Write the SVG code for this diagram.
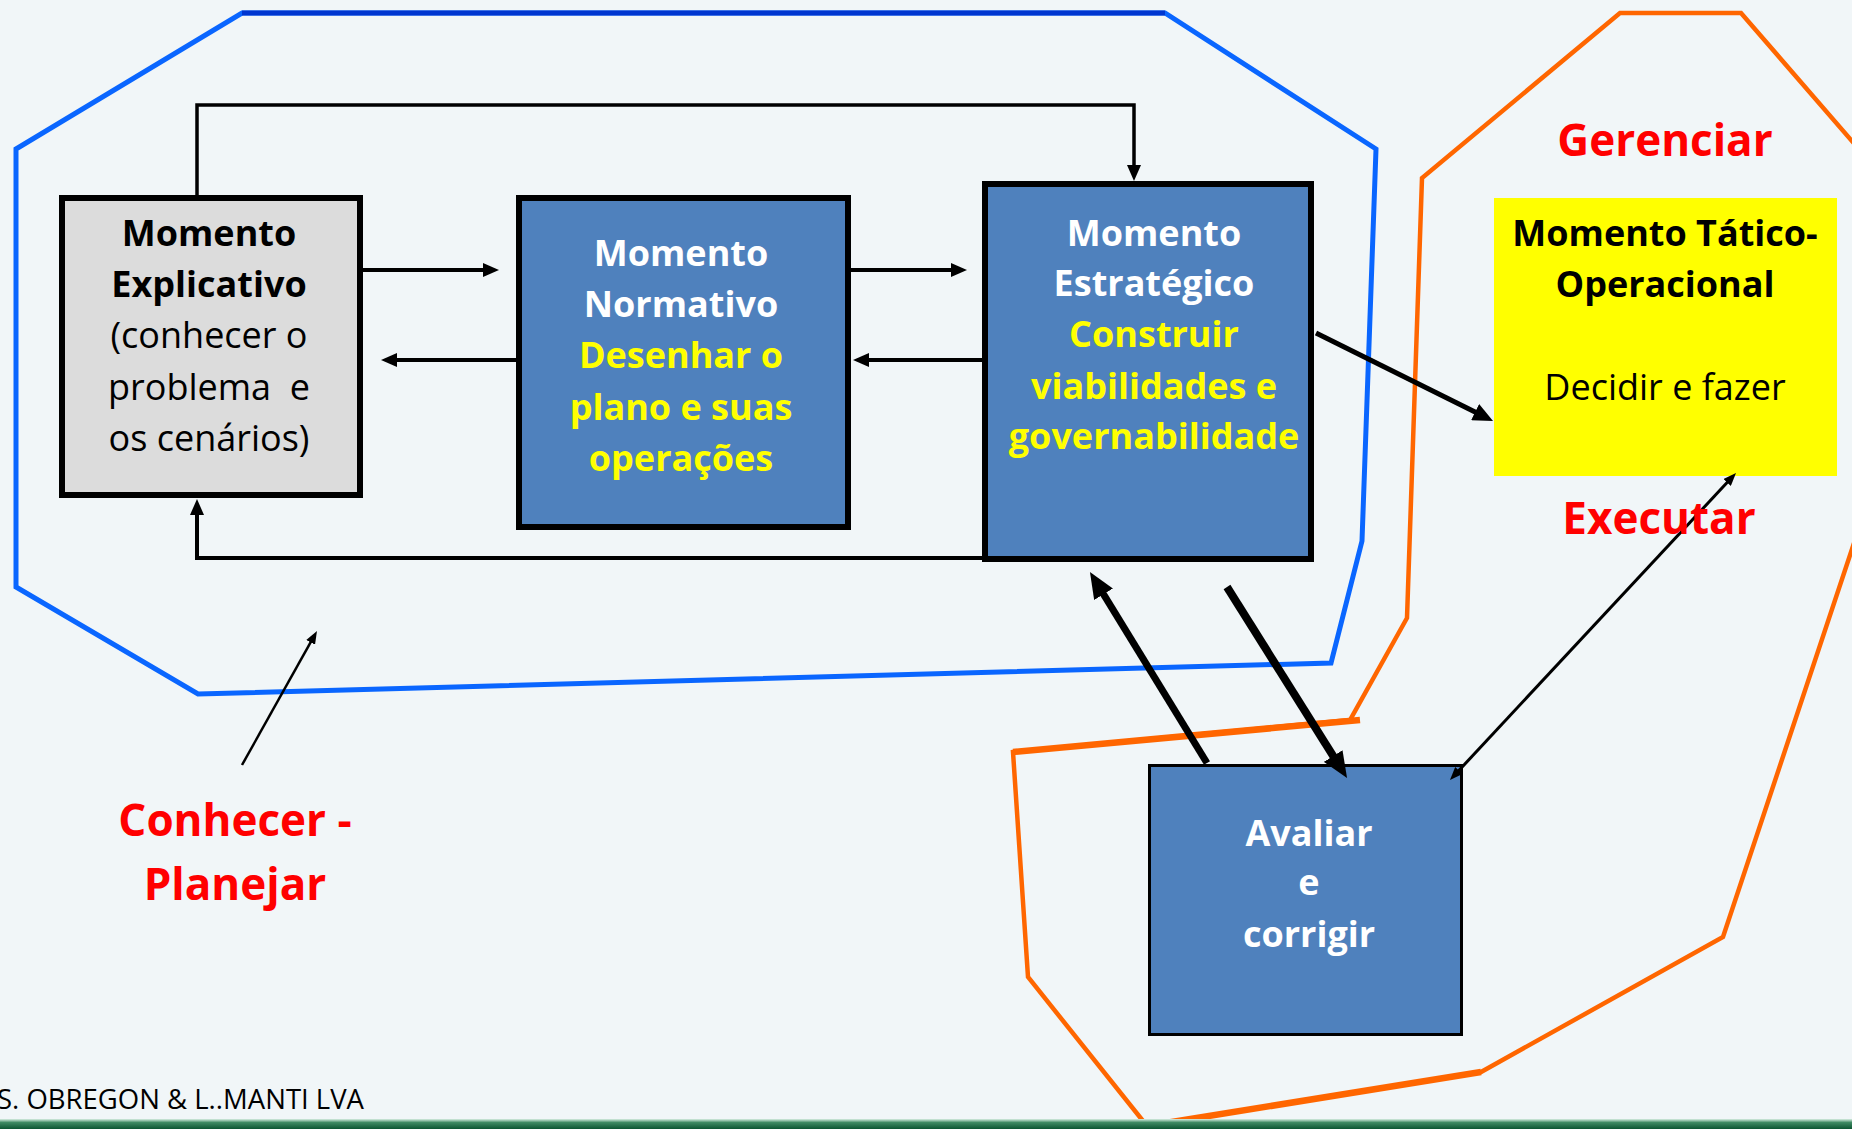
<svg xmlns="http://www.w3.org/2000/svg" width="1852" height="1129" viewBox="0 0 1852 1129">
<defs>
<style>
.t{font-family:"Open Sans","Liberation Sans",sans-serif;text-anchor:middle;}
.b{font-weight:bold;}
.box{font-size:36px;}
.red{font-size:44px;font-weight:bold;fill:#ff0000;}
.w{fill:#ffffff;}
.y{fill:#ffff00;}
.k{fill:#000000;}
.con{fill:none;stroke:#000;stroke-linejoin:miter;}
.blue{fill:none;stroke:#0a66ff;stroke-width:5;stroke-linejoin:miter;}
.orange{fill:none;stroke:#ff6600;stroke-width:4.5;stroke-linejoin:miter;}
</style>
<linearGradient id="gbar" x1="0" y1="0" x2="0" y2="1">
<stop offset="0" stop-color="#d8eee2"/>
<stop offset="0.35" stop-color="#3f8a63"/>
<stop offset="1" stop-color="#0c5532"/>
</linearGradient>
<marker id="ah" markerUnits="userSpaceOnUse" markerWidth="16" markerHeight="14" refX="4" refY="7" orient="auto" viewBox="0 0 16 14"><path d="M0,0 L16,7 L0,14 z" fill="#000"/></marker>
<marker id="ahMid" markerUnits="userSpaceOnUse" markerWidth="20" markerHeight="18" refX="5" refY="9" orient="auto" viewBox="0 0 20 18"><path d="M0,0 L20,9 L0,18 z" fill="#000"/></marker>
<marker id="ahThick" markerUnits="userSpaceOnUse" markerWidth="26" markerHeight="22" refX="6" refY="11" orient="auto" viewBox="0 0 26 22"><path d="M0,0 L26,11 L0,22 z" fill="#000"/></marker>
<marker id="ahThin" markerUnits="userSpaceOnUse" markerWidth="13" markerHeight="10" refX="3" refY="5" orient="auto-start-reverse" viewBox="0 0 13 10"><path d="M0,0 L13,5 L0,10 z" fill="#000"/></marker>
</defs>

<rect x="0" y="0" width="1852" height="1129" fill="#f1f6f8"/>

<g id="regions">
<polygon class="blue" points="242,13 1165,13 1376,149 1362,541 1331,663 198,694 16,587 16,149"/>
<line x1="242" y1="13" x2="1165" y2="13" stroke="#0036d0" stroke-width="5"/>
<path class="orange" d="M1858,148 L1741,13 L1620,13 L1422,178 L1407,618 L1350,720 L1013,752 L1028,977 L1147,1126 L1481,1072 L1723,937 L1860,525"/>
<path d="M1360,720 L1013,752" fill="none" stroke="#ff6600" stroke-width="6.5"/>
<path d="M1147,1126 L1481,1072" fill="none" stroke="#ff6600" stroke-width="6.5"/>
</g>

<g id="momento-explicativo">
<rect x="62" y="198" width="298" height="297" fill="#dcdcdc" stroke="#000" stroke-width="6"/>
<text class="t box b k" x="209" y="246">Momento</text>
<text class="t box b k" x="209" y="297">Explicativo</text>
<text class="t box k" x="209" y="348">(conhecer o</text>
<text class="t box k" x="209" y="400" xml:space="preserve">problema  e</text>
<text class="t box k" x="209" y="451">os cenários)</text>
</g>

<g id="momento-normativo">
<rect x="519" y="198" width="329" height="329" fill="#4f81bd" stroke="#000" stroke-width="6"/>
<text class="t box b w" x="681" y="266">Momento</text>
<text class="t box b w" x="681" y="317">Normativo</text>
<text class="t box b y" x="681" y="368">Desenhar o</text>
<text class="t box b y" x="681" y="420">plano e suas</text>
<text class="t box b y" x="681" y="471">operações</text>
</g>

<g id="momento-estrategico">
<rect x="985" y="184" width="326" height="375" fill="#4f81bd" stroke="#000" stroke-width="6"/>
<text class="t box b w" x="1154" y="246">Momento</text>
<text class="t box b w" x="1154" y="296">Estratégico</text>
<text class="t box b y" x="1154" y="347">Construir</text>
<text class="t box b y" x="1154" y="399">viabilidades e</text>
<text class="t box b y" x="1154" y="449">governabilidade</text>
</g>

<g id="momento-tatico">
<rect x="1494" y="198" width="343" height="278" fill="#ffff00"/>
<text class="t box b k" x="1665" y="246">Momento Tático-</text>
<text class="t box b k" x="1665" y="297">Operacional</text>
<text class="t box k" x="1665" y="400">Decidir e fazer</text>
</g>

<g id="avaliar">
<rect x="1149.5" y="765.5" width="312" height="269" fill="#4f81bd" stroke="#000" stroke-width="3"/>
<text class="t box b w" x="1309" y="846">Avaliar</text>
<text class="t box b w" x="1309" y="895">e</text>
<text class="t box b w" x="1309" y="947">corrigir</text>
</g>

<g id="connectors">
<polyline class="con" stroke-width="3.5" points="197,195 197,105 1134,105 1134,169" marker-end="url(#ah)"/>
<line class="con" stroke-width="4" x1="363" y1="270" x2="487" y2="270" marker-end="url(#ah)"/>
<line class="con" stroke-width="4" x1="516" y1="360" x2="393" y2="360" marker-end="url(#ah)"/>
<line class="con" stroke-width="4" x1="851" y1="270" x2="955" y2="270" marker-end="url(#ah)"/>
<line class="con" stroke-width="4" x1="982" y1="360" x2="865" y2="360" marker-end="url(#ah)"/>
<polyline class="con" stroke-width="4" points="982,558 197,558 197,511" marker-end="url(#ah)"/>
<line class="con" stroke-width="5" x1="1316" y1="333" x2="1479.6" y2="414.3" marker-end="url(#ahMid)"/>
<line class="con" stroke-width="7" x1="1207" y1="763" x2="1100.4" y2="589.1" marker-end="url(#ahThick)"/>
<line class="con" stroke-width="8" x1="1227" y1="587" x2="1336.4" y2="761.1" marker-end="url(#ahThick)"/>
<line class="con" stroke-width="3" x1="1456.8" y1="772.7" x2="1729.2" y2="480.3" marker-start="url(#ahThin)" marker-end="url(#ahThin)"/>
<line class="con" stroke-width="2.5" x1="242" y1="765" x2="312.1" y2="639.7" marker-end="url(#ahThin)"/>
</g>

<g id="labels">
<text class="t red" x="1665" y="156">Gerenciar</text>
<text class="t red" x="1659" y="534">Executar</text>
<text class="t red" x="235" y="836">Conhecer -</text>
<text class="t red" x="235" y="900">Planejar</text>
</g>

<g id="footer">
<rect x="0" y="1119" width="1852" height="10" fill="url(#gbar)"/>
<text x="-3" y="1109" font-family="Open Sans, Liberation Sans, sans-serif" font-size="27.5" fill="#000">S. OBREGON &amp; L..MANTI LVA</text>
</g>
</svg>
